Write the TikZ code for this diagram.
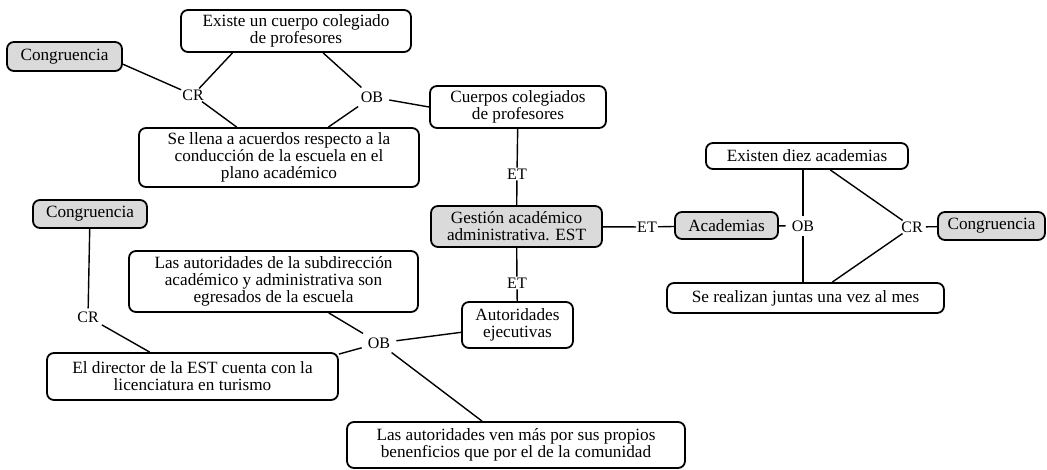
\documentclass[tikz,border=0pt]{standalone}
\usepackage{fontspec}
\setmainfont{Liberation Serif}
\usetikzlibrary{calc}
\definecolor{boxgray}{HTML}{DADADA}
\tikzset{
  concept/.style={draw=black, line width=1.8pt, rounded corners=7pt, align=center,
    inner sep=0pt, font=\fontsize{17.2}{17}\selectfont},
  graybox/.style={concept, fill=boxgray},
  link/.style={inner sep=1pt, font=\fontsize{16}{16}\selectfont},
  oblink/.style={link, inner xsep=6pt, inner ysep=4pt},
  conn/.style={line width=1.4pt}
}
\begin{document}
\begin{tikzpicture}[x=1pt,y=-1pt]
\useasboundingbox (0,0) rectangle (1047,470);
% concepts
\node[graybox, minimum width=115, minimum height=29] (c1) at (64.5,56.5) {Congruencia};
\node[concept, minimum width=230, minimum height=42] (ex) at (296,31) {Existe un cuerpo colegiado\\de profesores};
\node[concept, minimum width=280, minimum height=59] (sl) at (279,157.5) {Se llena a acuerdos respecto a la\\conducción de la escuela en el\\plano académico};
\node[concept, minimum width=176, minimum height=42] (cu) at (518,107) {Cuerpos colegiados\\de profesores};
\node[graybox, minimum width=171, minimum height=41] (ge) at (516.5,226.5) {Gestión académico\\administrativa. EST};
\node[graybox, minimum width=103, minimum height=27] (ac) at (726.5,225.5) {Academias};
\node[concept, minimum width=202, minimum height=26] (ed) at (807,156) {Existen diez academias};
\node[graybox, minimum width=107, minimum height=28] (c3) at (991.5,226) {Congruencia};
\node[concept, minimum width=277, minimum height=30] (sr) at (805.5,298) {Se realizan juntas una vez al mes};
\node[graybox, minimum width=114, minimum height=28] (c2) at (90,214) {Congruencia};
\node[concept, minimum width=289, minimum height=61] (ls) at (273.5,281.5) {Las autoridades de la subdirección\\académico y administrativa son\\egresados de la escuela};
\node[concept, minimum width=111, minimum height=46] (au) at (517.5,325) {Autoridades\\ejecutivas};
\node[concept, minimum width=291, minimum height=47] (di) at (192.5,376.5) {El director de la EST cuenta con la\\licenciatura en turismo};
\node[concept, minimum width=338, minimum height=46] (lv) at (516,445) {Las autoridades ven más por sus propios\\benenficios que por el de la comunidad};
% linking phrases
\node[link] (cr1) at (193,95) {CR};
\node[oblink] (ob1) at (372,97) {OB};
\node[link] (et1) at (517,174) {ET};
\node[link] (et2) at (647,227) {ET};
\node[link] (et3) at (517,283) {ET};
\node[oblink] (ob2) at (803,226) {OB};
\node[link, inner xsep=3pt] (cr2) at (912,227) {CR};
\node[link, inner sep=3pt] (cr3) at (88,317) {CR};
\node[oblink] (ob3) at (379,343) {OB};
% connectors
\draw[conn] ($(c1.north east)!0.75!(c1.south east)$) -- (cr1);
\draw[conn] ($(ex.south west)!0.226!(ex.south east)$) -- (cr1);
\draw[conn] (cr1) -- ($(sl.north west)!0.35!(sl.north east)$);
\draw[conn] ($(ex.south west)!0.617!(ex.south east)$) -- (ob1);
\draw[conn] (ob1) -- ($(sl.north west)!0.675!(sl.north east)$);
\draw[conn] (ob1) -- (cu.west);
\draw[conn] (cu) -- (et1);
\draw[conn] (et1) -- (ge);
\draw[conn] (ge) -- (et2);
\draw[conn] (et2) -- (ac);
\draw[conn] (ge) -- (et3);
\draw[conn] (et3) -- (au);
\draw[conn] (ac) -- (ob2);
\draw[conn] (ob2) -- (ob2 |- ed.south);
\draw[conn] (ob2) -- (ob2 |- sr.north);
\draw[conn] ($(ed.south west)!0.614!(ed.south east)$) -- (cr2);
\draw[conn] (cr2) -- ($(sr.north west)!0.596!(sr.north east)$);
\draw[conn] (cr2) -- (c3);
\draw[conn] (c2) -- (cr3);
\draw[conn] (cr3) -- (di);
\draw[conn] ($(ls.south west)!0.69!(ls.south east)$) -- (ob3);
\draw[conn] (ob3) -- (au);
\draw[conn] (ob3) -- ($(di.north east)+(0,2)$);
\draw[conn] (ob3) -- ($(lv.north west)!0.40!(lv.north east)$);
\end{tikzpicture}
\end{document}
